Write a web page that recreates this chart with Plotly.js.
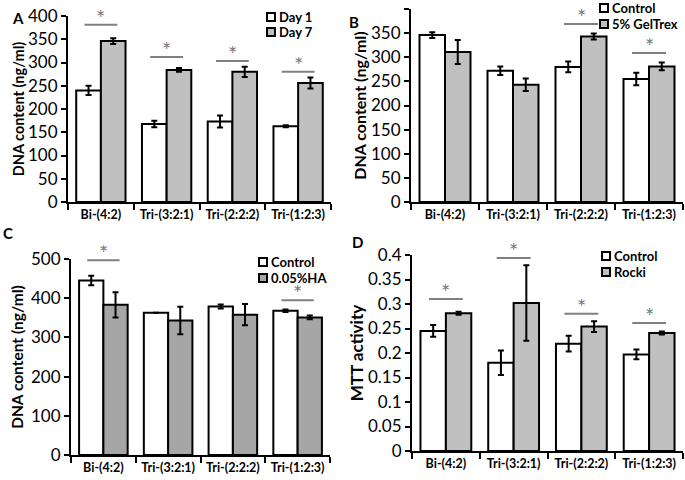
<!DOCTYPE html>
<html>
<head>
<meta charset="utf-8">
<script src="https://cdn.plot.ly/plotly-3.0.1.min.js"></script>
<style>
  html, body { margin: 0; padding: 0; background: #fff; }
  #chart { width: 685px; height: 480px; }
</style>
</head>
<body>
<div id="chart"></div>
<script>
// --- Data ---
const categories = ['Bi-(4:2)', 'Tri-(3:2:1)', 'Tri-(2:2:2)', 'Tri-(1:2:3)'];

// A: Day 1 vs Day 7
const aDay1 = [240, 168, 173, 163];
const aDay1Err = [10, 7, 13, 2];
const aDay7 = [346, 284, 280, 256];
const aDay7Err = [6, 4, 11, 12];
const aSig = [381, 312, 303, 280];

// B: Control vs 5% GelTrex
const bControl = [346, 272, 280, 255];
const bControlErr = [6, 9, 11, 13];
const bGel = [311, 243, 343, 281];
const bGelErr = [25, 13, 6, 8];
const bSig = [null, null, 369, 309];

// C: Control vs 0.05%HA
const cControl = [445, 363, 379, 368];
const cControlErr = [12, 0, 5, 3];
const cHA = [383, 343, 358, 351];
const cHAErr = [32, 35, 27, 5];
const cSig = [497, null, null, 395];

// D: Control vs Rocki (MTT)
const dControl = [0.245, 0.18, 0.219, 0.197];
const dControlErr = [0.012, 0.025, 0.016, 0.01];
const dRocki = [0.281, 0.302, 0.254, 0.241];
const dRockiErr = [0.003, 0.077, 0.011, 0.003];
const dSig = [0.31, 0.394, 0.28, 0.261];

const FONT = 'Lato, "Open Sans", sans-serif';
const GREY = '#c0c0c0';
const GREY_C = '#a6a6a6';
const W = 685, H = 480;
const px = x => x / W;
const py = y => 1 - y / H;

function barTrace(name, y, err, color, ax) {
  return {
    type: 'bar',
    name: name,
    x: categories,
    y: y,
    xaxis: 'x' + ax,
    yaxis: 'y' + ax,
    showlegend: false,
    marker: { color: color, line: { color: '#000', width: 2 } },
    error_y: { type: 'data', array: err, visible: true, color: '#000', thickness: 2, width: 3 },
  };
}

const traces = [
  barTrace('Day 1', aDay1, aDay1Err, '#fff', ''),
  barTrace('Day 7', aDay7, aDay7Err, GREY, ''),
  barTrace('Control', bControl, bControlErr, '#fff', '2'),
  barTrace('5% GelTrex', bGel, bGelErr, GREY, '2'),
  barTrace('Control', cControl, cControlErr, '#fff', '3'),
  barTrace('0.05%HA', cHA, cHAErr, GREY_C, '3'),
  barTrace('Control', dControl, dControlErr, '#fff', '4'),
  barTrace('Rocki', dRocki, dRockiErr, GREY, '4'),
];

function xAxis(domain, anchor) {
  return {
    domain: domain, anchor: anchor, type: 'category', range: [-0.5, 3.5],
    showline: true, linecolor: '#000', linewidth: 2,
    ticks: 'outside', tickson: 'boundaries', ticklen: 6, tickwidth: 2, tickcolor: '#000',
    tickangle: 0,
    tickfont: { family: FONT, size: 12.5, color: '#000', weight: 'bold' },
    showgrid: false, fixedrange: true,
  };
}

function yAxis(domain, anchor, range, dtick, title, tsize, standoff) {
  return {
    domain: domain, anchor: anchor, range: range, dtick: dtick,
    showline: true, linecolor: '#000', linewidth: 2,
    ticks: 'outside', ticklen: 5, tickwidth: 2, tickcolor: '#000',
    tickfont: { family: FONT, size: 17, color: '#000' },
    showgrid: false, zeroline: false, fixedrange: true,
    title: { text: title, font: { family: FONT, size: tsize, color: '#000', weight: 'bold' }, standoff: standoff },
  };
}

// significance bars + stars
const shapes = [];
const annotations = [];
function addSig(sig, ax) {
  sig.forEach((v, i) => {
    if (v === null) return;
    shapes.push({
      type: 'line', xref: 'x' + ax, yref: 'y' + ax,
      x0: i - 0.25, x1: i + 0.25, y0: v, y1: v,
      line: { color: '#808080', width: 2 },
    });
    annotations.push({
      xref: 'x' + ax, yref: 'y' + ax, x: i, y: v, text: '*',
      showarrow: false, yanchor: 'bottom', yshift: -8,
      font: { family: FONT, size: 22, color: '#7a7a7a' },
    });
  });
}
addSig(aSig, '');
addSig(bSig, '2');
addSig(cSig, '3');
addSig(dSig, '4');

// panel letters
[['A', 10, 7], ['B', 347, 11], ['C', 1, 222], ['D', 350, 231]].forEach(([t, x, y]) => {
  annotations.push({
    xref: 'paper', yref: 'paper', x: px(x), y: py(y), text: t, showarrow: false,
    xanchor: 'left', yanchor: 'top',
    font: { family: FONT, size: 15, color: '#000', weight: 'bold' },
  });
});

// legends: small outlined squares + bold labels
function addLegend(x, items) {
  items.forEach(([label, color, yc]) => {
    shapes.push({
      type: 'rect', xref: 'paper', yref: 'paper',
      x0: px(x), x1: px(x + 8), y0: py(yc + 4), y1: py(yc - 4),
      fillcolor: color, line: { color: '#000', width: 2 },
    });
    annotations.push({
      xref: 'paper', yref: 'paper', x: px(x + 10), y: py(yc), text: label,
      showarrow: false, xanchor: 'left', yanchor: 'middle',
      font: { family: FONT, size: 13, color: '#000', weight: 'bold' },
    });
  });
}
addLegend(267, [['Day 1', '#fff', 17], ['Day 7', GREY, 32]]);
addLegend(600, [['Control', '#fff', 8], ['5% GelTrex', GREY, 24]]);
addLegend(259, [['Control', '#fff', 262], ['0.05%HA', GREY_C, 278]]);
addLegend(602, [['Control', '#fff', 256], ['Rocki', GREY, 272]]);

const layout = {
  width: W, height: H,
  margin: { l: 0, r: 0, t: 0, b: 0 },
  paper_bgcolor: '#fff', plot_bgcolor: '#fff',
  barmode: 'group', bargap: 0.25, bargroupgap: 0,
  showlegend: false,
  xaxis: xAxis([px(68), px(331)], 'y'),
  yaxis: yAxis([py(202), py(16)], 'x', [0, 400], 50, 'DNA content (ng/ml)', 14.5, 0),
  xaxis2: xAxis([px(411), px(683)], 'y2'),
  yaxis2: yAxis([py(202), py(9)], 'x2', [0, 400], 50, 'DNA content (ng/ml)', 16, 0),
  xaxis3: xAxis([px(71), px(330)], 'y3'),
  yaxis3: yAxis([py(455), py(259)], 'x3', [0, 500], 100, 'DNA content (ng/ml)', 15.5, 4),
  xaxis4: xAxis([px(412), px(683)], 'y4'),
  yaxis4: yAxis([py(451), py(255)], 'x4', [0, 0.4], 0.05, 'MTT activity', 17, 0),
  shapes: shapes,
  annotations: annotations,
};

Plotly.newPlot('chart', traces, layout, { staticPlot: true, displayModeBar: false });
</script>
</body>
</html>
